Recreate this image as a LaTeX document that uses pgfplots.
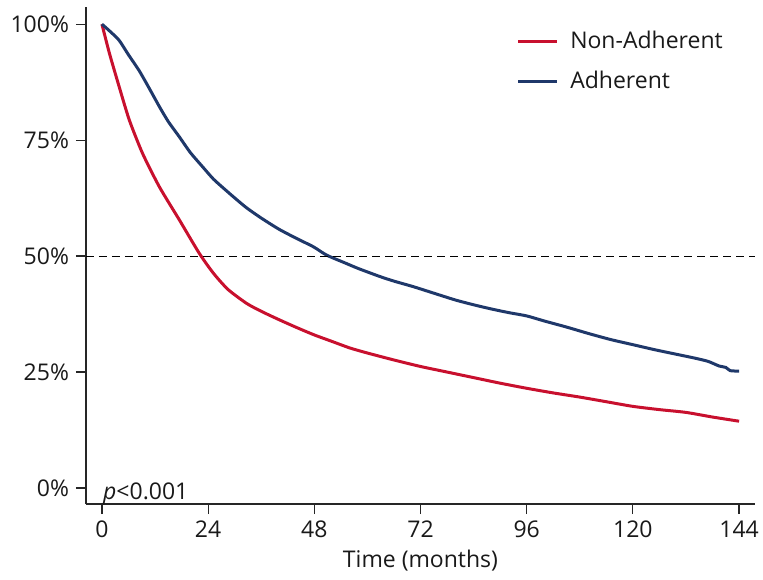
\documentclass[border=0pt]{standalone}
\usepackage{fontspec}
\setmainfont{Open Sans}
\usepackage{pgfplots}
\pgfplotsset{compat=1.18}
\usetikzlibrary{calc}
\definecolor{nonadh}{RGB}{200,16,46}
\definecolor{adh}{RGB}{31,56,106}
\begin{document}
\begin{tikzpicture}[font=\fontsize{11.5}{13}\selectfont]
\def\u{0.5pt}
\begin{axis}[
  name=ax,
  scale only axis,
  width=334.5pt, height=248.5pt,
  xmin=-3.6, xmax=147.6,
  ymin=-3.45, ymax=103.7,
  axis x line*=bottom, axis y line*=left,
  axis line style={black!85, line width=0.6pt},
  tick style={black!85, line width=0.6pt},
  tick align=outside,
  major tick length=5pt,
  xtick={0,24,...,144},
  ytick={0,25,50,75,100},
  yticklabel={\pgfmathprintnumber{\tick}\%},
  /pgf/number format/assume math mode=true,
  tick label style={font=\fontsize{11.5}{13}\selectfont, black!90},
  xlabel={Time (months)},
  xlabel style={yshift=1pt, black!90},
  legend style={at={(rel axis cs:0.634,0.968)}, anchor=north west,
    draw=none, fill=none, row sep=5.5pt,
    font=\fontsize{11.5}{13}\selectfont, text=black!90,
    nodes={inner xsep=6pt}},
  legend cell align=left,
  legend image code/.code={\draw[#1, line width=1.5pt] (0,0) -- (0.68cm,0);},
]
\addplot[nonadh, line width=1.5pt, smooth, tension=0.4] coordinates {
  (0,100) (1.7,93.7) (3.9,86.5) (6.2,79.3) (9.2,72.1) (13,64.9)
  (17.5,57.8) (22,50.6) (25.2,46.3) (28.5,42.8) (32.7,39.8) (36,38.1)
  (40,36.3) (44,34.6) (48,33) (52,31.6) (56,30.2) (60,29.1) (66,27.6)
  (72,26.2) (78,25) (84,23.8) (90,22.6) (96,21.5) (102,20.5) (108,19.6)
  (114,18.6) (120,17.6) (126,16.9) (132,16.3) (138,15.3) (144,14.4)
};
\addlegendentry{Non-Adherent}
\addplot[adh, line width=1.5pt, smooth, tension=0.4] coordinates {
  (0,100) (2,98.3) (3.9,96.5) (6,93.4) (8.4,90) (10.5,86.5) (13,82.2)
  (15,79) (17.5,75.7) (20,72.3) (22.8,69.2) (25.2,66.6) (28,64.2)
  (30.3,62.3) (32.7,60.4) (36,58.2) (40,55.8) (44,53.8) (47.8,52)
  (50.8,50.2) (55,48.5) (58,47.3) (62.8,45.6) (66,44.6) (70.4,43.4)
  (76,41.7) (80,40.5) (84,39.5) (88,38.6) (92,37.8) (96,37.1) (100,36)
  (105,34.7) (110,33.3) (115,32) (120,30.9) (125,29.8) (130,28.8)
  (134,28) (137,27.3) (139.5,26.3) (141,26) (142,25.3) (144,25.2)
};
\addlegendentry{Adherent}
\draw[black, line width=0.5pt, dash pattern=on 4pt off 2.5pt]
  (axis cs:-3.6,50) -- (axis cs:147.6,50);
\node[anchor=base west, inner sep=0pt, text=black!90] at (axis cs:0.2,-2.4) {\textit{p}<0.001};
\end{axis}
\pgfresetboundingbox
\path ($(ax.south west)+(-86*\u,-75*\u)$) rectangle ($(ax.north east)+(8*\u,7*\u)$);
\end{tikzpicture}
\end{document}
